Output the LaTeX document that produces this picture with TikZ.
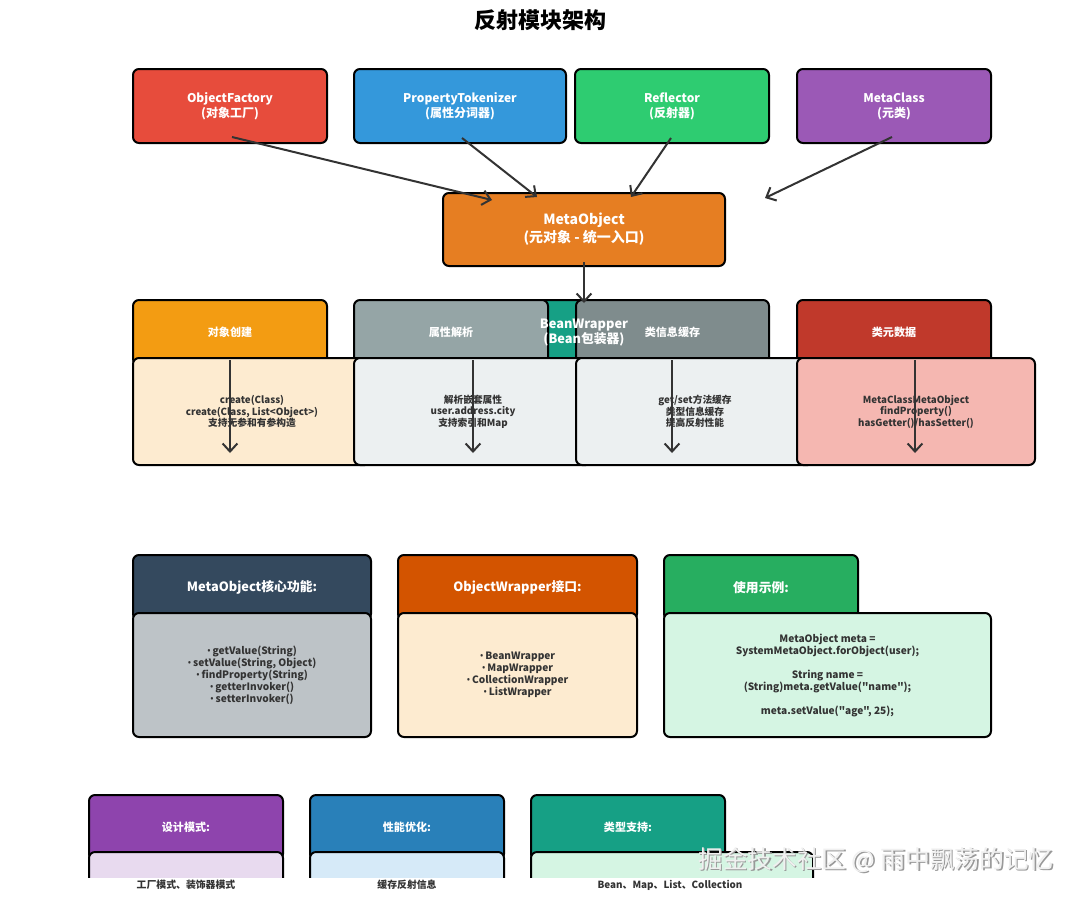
\documentclass[tikz,border=0pt]{standalone}
\usepackage{fontspec}
\setmainfont{Noto Sans CJK SC}
\newfontfamily\codefont{Noto Sans CJK SC}
\newfontfamily\bulletfont{Noto Sans}
\newcommand{\bul}{{\bulletfont •}\,}
\usetikzlibrary{arrows.meta}
\definecolor{cOF}{HTML}{E74C3C}
\definecolor{cPT}{HTML}{3498DB}
\definecolor{cRF}{HTML}{2ECC71}
\definecolor{cMC}{HTML}{9B59B6}
\definecolor{cMO}{HTML}{E67E22}
\definecolor{cH1}{HTML}{F39C12}
\definecolor{cH2}{HTML}{95A5A6}
\definecolor{cBW}{HTML}{16A085}
\definecolor{cH3}{HTML}{7F8C8D}
\definecolor{cH4}{HTML}{C0392B}
\definecolor{cPeach}{HTML}{FDEBD0}
\definecolor{cLight}{HTML}{ECF0F1}
\definecolor{cPink}{HTML}{F5B7B1}
\definecolor{cS1}{HTML}{34495E}
\definecolor{cS2}{HTML}{D35400}
\definecolor{cS3}{HTML}{27AE60}
\definecolor{cS1b}{HTML}{BDC3C7}
\definecolor{cS3b}{HTML}{D5F5E3}
\definecolor{cT1}{HTML}{8E44AD}
\definecolor{cT2}{HTML}{2980B9}
\definecolor{cT3}{HTML}{16A085}
\definecolor{cT1b}{HTML}{E8DAEF}
\definecolor{cT2b}{HTML}{D6EAF8}
\definecolor{cDark}{HTML}{333333}
\begin{document}
\begin{tikzpicture}[x=0.75pt,y=-0.75pt,
  wh/.style 2 args={minimum width={#1*0.75pt}, minimum height={#2*0.75pt}},
  box/.style={draw=black, line width=1.5pt, rounded corners=4.5pt, inner sep=0pt, align=center},
  topbox/.style={box, text=white, font=\bfseries\fontsize{9}{11.3}\selectfont},
  hdr/.style={box, text=white, font=\bfseries\fontsize{8.3}{10}\selectfont},
  hdrb/.style={box, text=white, font=\bfseries\fontsize{9.6}{11.5}\selectfont},
  body/.style={box, text=cDark, font=\bfseries\fontsize{7.3}{8.6}\selectfont},
  bodyb/.style={box, text=cDark, font=\bfseries\fontsize{7.6}{9}\selectfont},
  arr/.style={draw=cDark, line width=1.5pt, -{Straight Barb[length=6pt,width=11pt]}},
  lbl/.style={text=cDark, font=\bfseries\fontsize{7.4}{8.5}\selectfont, inner sep=0pt}
]
\useasboundingbox (0,0) rectangle (1080,900);
\fill[white] (0,0) rectangle (1080,900);

% title
\node[font=\bfseries\fontsize{16.5}{19}\selectfont, text=black] (title) at (540,20) {反射模块架构};

% top row
\node[topbox, fill=cOF, wh={194}{74}] (of) at (230,106) {ObjectFactory\\(对象工厂)};
\node[topbox, fill=cPT, wh={212}{74}] (pt) at (460,106) {PropertyTokenizer\\(属性分词器)};
\node[topbox, fill=cRF, wh={194}{74}] (rf) at (672,106) {Reflector\\(反射器)};
\node[topbox, fill=cMC, wh={194}{74}] (mc) at (894,106) {MetaClass\\(元类)};

\node[box, fill=cMO, text=white, font=\bfseries\fontsize{10.5}{13.5}\selectfont, wh={282}{73}] (mo) at (584,229.5) {MetaObject\\(元对象 - 统一入口)};

\coordinate (ofS) at (232,137);
\coordinate (ptS) at (462,138);
\coordinate (rfS) at (671,138);
\coordinate (mcS) at (892,137);
\coordinate (moA) at (492,200);
\coordinate (moB) at (537,197);
\coordinate (moC) at (631,197);
\coordinate (moD) at (765,198);
\coordinate (moS) at (584,262);
\coordinate (bwT) at (584,303);

% section 1 headers
\node[box, fill=cBW, wh={194}{65}] (bw) at (584,332.5) {};
\node[hdr, fill=cH1, wh={194}{65}] (h1) at (230,332.5) {对象创建};
\node[hdr, fill=cH2, wh={194}{65}] (h2) at (451,332.5) {属性解析};
\node[hdr, fill=cH3, wh={193}{65}] (h3) at (672.5,332.5) {类信息缓存};
\node[hdr, fill=cH4, wh={194}{65}] (h4) at (894,332.5) {类元数据};
\node[text=white, font=\bfseries\fontsize{9.6}{11.3}\selectfont, align=center, inner sep=0pt] (bwt) at (584,332.5) {BeanWrapper\\(Bean包装器)};

% section 1 contents
\node[body, fill=cPeach, wh={238}{107}] (c1) at (252,411.5) {create(Class)\\create(Class, List<Object>)\\支持无参和有参构造};
\node[body, fill=cLight, wh={238}{107}] (c2) at (473,411.5) {解析嵌套属性\\user.address.city\\支持索引和Map};
\node[body, fill=cLight, wh={238}{107}] (c3) at (695,411.5) {get/set方法缓存\\类型信息缓存\\提高反射性能};
\node[body, fill=cPink, wh={238}{107}] (c4) at (916,411.5) {MetaClassMetaObject\\findProperty()\\hasGetter()/hasSetter()};

% arrows top
\draw[arr] (ofS) -- (moA);
\draw[arr] (ptS) -- (moB);
\draw[arr] (rfS) -- (moC);
\draw[arr] (mcS) -- (moD);
\draw[arr] (moS) -- (bwT);

% section 1 arrows
\coordinate (a1s) at (230,360); \coordinate (a1e) at (230,453);
\coordinate (a2s) at (473,360); \coordinate (a2e) at (473,453);
\coordinate (a3s) at (672,360); \coordinate (a3e) at (672,453);
\coordinate (a4s) at (915,360); \coordinate (a4e) at (915,453);
\draw[arr] (a1s) -- (a1e);
\draw[arr] (a2s) -- (a2e);
\draw[arr] (a3s) -- (a3e);
\draw[arr] (a4s) -- (a4e);

% section 2
\node[hdrb, fill=cS1, wh={238}{65}] (s1) at (252,587.5) {MetaObject核心功能:};
\node[hdrb, fill=cS2, wh={239}{65}] (s2) at (517.5,587.5) {ObjectWrapper接口:};
\node[hdrb, fill=cS3, wh={194}{65}] (s3) at (761,587.5) {使用示例:};
\node[bodyb, fill=cS1b, wh={238}{124}] (s1b) at (252,675) {\bul getValue(String)\\\bul setValue(String, Object)\\\bul findProperty(String)\\\bul getterInvoker()\\\bul setterInvoker()};
\node[bodyb, fill=cPeach, wh={239}{124}] (s2b) at (517.5,675) {\bul BeanWrapper\\\bul MapWrapper\\\bul CollectionWrapper\\\bul ListWrapper};
\node[bodyb, fill=cS3b, wh={327}{124}, font=\codefont\bfseries\fontsize{7.6}{9}\selectfont] (s3b) at (827.5,675) {MetaObject meta =\\SystemMetaObject.forObject(user);\\[9pt]String name =\\(String)meta.getValue("name");\\[9pt]meta.setValue("age", 25);};

% section 3 (clipped)
\begin{scope}
\clip (0,0) rectangle (1080,877);
\node[hdr, fill=cT1, wh={194}{65}] (t1) at (186,827.5) {设计模式:};
\node[hdr, fill=cT2, wh={194}{65}] (t2) at (407,827.5) {性能优化:};
\node[hdr, fill=cT3, wh={194}{65}] (t3) at (628,827.5) {类型支持:};
\node[box, fill=cT1b, wh={194}{124}] (t1b) at (186,914) {};
\node[box, fill=cT2b, wh={194}{124}] (t2b) at (407,914) {};
\node[box, fill=cS3b, wh={282}{124}] (t3b) at (672,914) {};
\end{scope}
\node[lbl] (l1) at (186,885) {工厂模式、装饰器模式};
\node[lbl] (l2) at (407,885) {缓存反射信息};
\node[lbl] (l3) at (670,885) {Bean、Map、List、Collection};

% watermark
\node[text=gray!80, font=\fontsize{18.5}{20}\selectfont, inner sep=0pt] (wm0) at (877.5,861.5) {掘金技术社区 @ 雨中飘荡的记忆};
\node[text=gray!12, font=\fontsize{18.5}{20}\selectfont, inner sep=0pt] (wm) at (876,860) {掘金技术社区 @ 雨中飘荡的记忆};
\end{tikzpicture}
\end{document}
